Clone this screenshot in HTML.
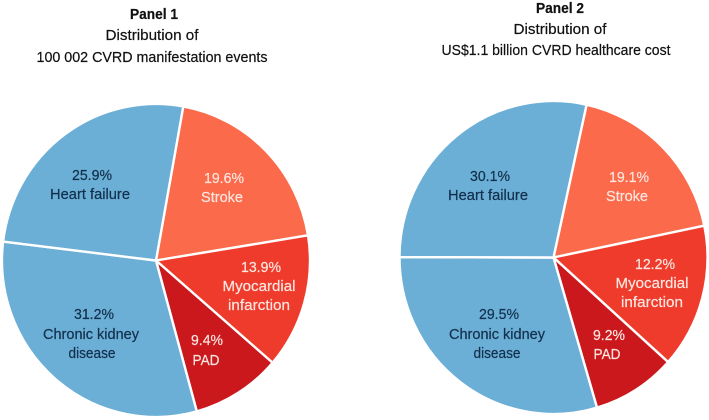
<!DOCTYPE html>
<html lang="en">
<head>
<meta charset="utf-8">
<title>CVRD manifestation events and healthcare cost</title>
<style>
html,body{margin:0;padding:0;background:#fff;}
svg{display:block;}
text{font-family:"Liberation Sans",sans-serif;font-size:14.5px;text-anchor:middle;stroke-width:0.2px;}
.title{fill:#111;stroke:#111;}
.dark{fill:#12304c;stroke:#12304c;}
.light{fill:#fde6e0;stroke:#fde6e0;}
</style>
</head>
<body>
<svg id="chart" width="709" height="420" viewBox="0 0 709 420" xmlns="http://www.w3.org/2000/svg">
  <g id="wedges"></g>

  <g>
    <text class="title" x="154" y="19" font-weight="700" textLength="48" lengthAdjust="spacingAndGlyphs">Panel 1</text>
    <text class="title" x="152" y="40" textLength="93" lengthAdjust="spacingAndGlyphs">Distribution of</text>
    <text class="title" x="152" y="62" textLength="231" lengthAdjust="spacingAndGlyphs">100 002 CVRD manifestation events</text>
  </g>
  <g>
    <text class="title" x="560" y="13" font-weight="700" textLength="48" lengthAdjust="spacingAndGlyphs">Panel 2</text>
    <text class="title" x="560" y="34" textLength="93" lengthAdjust="spacingAndGlyphs">Distribution of</text>
    <text class="title" x="556" y="55" textLength="229" lengthAdjust="spacingAndGlyphs">US$1.1 billion CVRD healthcare cost</text>
  </g>

  <g>
    <text class="dark" x="92" y="180" textLength="40" lengthAdjust="spacingAndGlyphs">25.9%</text>
    <text class="dark" x="90" y="199" textLength="80" lengthAdjust="spacingAndGlyphs">Heart failure</text>
    <text class="light" x="224" y="183" textLength="40" lengthAdjust="spacingAndGlyphs">19.6%</text>
    <text class="light" x="222" y="202" textLength="42" lengthAdjust="spacingAndGlyphs">Stroke</text>
    <text class="light" x="261" y="272" textLength="40" lengthAdjust="spacingAndGlyphs">13.9%</text>
    <text class="light" x="259" y="291" textLength="73" lengthAdjust="spacingAndGlyphs">Myocardial</text>
    <text class="light" x="259" y="310" textLength="62" lengthAdjust="spacingAndGlyphs">infarction</text>
    <text class="dark" x="94" y="319" textLength="40" lengthAdjust="spacingAndGlyphs">31.2%</text>
    <text class="dark" x="91" y="339" textLength="96" lengthAdjust="spacingAndGlyphs">Chronic kidney</text>
    <text class="dark" x="92" y="358" textLength="47" lengthAdjust="spacingAndGlyphs">disease</text>
    <text class="light" x="207" y="345" textLength="32" lengthAdjust="spacingAndGlyphs">9.4%</text>
    <text class="light" x="206" y="365" textLength="27" lengthAdjust="spacingAndGlyphs">PAD</text>
  </g>

  <g>
    <text class="dark" x="490" y="181" textLength="40" lengthAdjust="spacingAndGlyphs">30.1%</text>
    <text class="dark" x="488" y="200" textLength="80" lengthAdjust="spacingAndGlyphs">Heart failure</text>
    <text class="light" x="629" y="182" textLength="40" lengthAdjust="spacingAndGlyphs">19.1%</text>
    <text class="light" x="627" y="201" textLength="42" lengthAdjust="spacingAndGlyphs">Stroke</text>
    <text class="light" x="655" y="269" textLength="40" lengthAdjust="spacingAndGlyphs">12.2%</text>
    <text class="light" x="652" y="288" textLength="73" lengthAdjust="spacingAndGlyphs">Myocardial</text>
    <text class="light" x="652" y="307" textLength="62" lengthAdjust="spacingAndGlyphs">infarction</text>
    <text class="dark" x="499" y="319" textLength="40" lengthAdjust="spacingAndGlyphs">29.5%</text>
    <text class="dark" x="497" y="339" textLength="96" lengthAdjust="spacingAndGlyphs">Chronic kidney</text>
    <text class="dark" x="497" y="358" textLength="47" lengthAdjust="spacingAndGlyphs">disease</text>
    <text class="light" x="609" y="340" textLength="32" lengthAdjust="spacingAndGlyphs">9.2%</text>
    <text class="light" x="607" y="359" textLength="27" lengthAdjust="spacingAndGlyphs">PAD</text>
  </g>
</svg>
<script>
// Slice order, clockwise from each pie's first boundary.
const categories = ["stroke", "myocardial-infarction", "pad", "chronic-kidney-disease", "heart-failure"];
// Panel 1 wedges agree with the printed percentages.
const panel1Values = [19.6, 13.9, 9.4, 31.2, 25.9];
const panel2Values = [18.3, 14.9, 8.8, 29.6, 28.4];

const sliceColors = ["#fb6a4a", "#ef3b2c", "#cb181d", "#6baed6", "#6baed6"];
const SVG_NS = "http://www.w3.org/2000/svg";

function angleScale(values) {
  const total = values.reduce(function (a, b) { return a + b; }, 0);
  return function (v) { return v / total * 2 * Math.PI; };
}

function pointAt(pie, angle) {
  return [pie.cx + pie.rx * Math.sin(angle), pie.cy - pie.ry * Math.cos(angle)];
}

function drawPie(values, pie, panelName) {
  const host = document.getElementById("wedges");
  const scale = angleScale(values);
  let angle = pie.start * Math.PI / 180;
  values.forEach(function (value, i) {
    const sweep = scale(value);
    const p0 = pointAt(pie, angle);
    const p1 = pointAt(pie, angle + sweep);
    const large = sweep > Math.PI ? 1 : 0;
    const path = document.createElementNS(SVG_NS, "path");
    path.setAttribute("d", "M" + pie.cx + " " + pie.cy + "L" + p0[0].toFixed(2) + " " + p0[1].toFixed(2) +
      "A" + pie.rx + " " + pie.ry + " 0 " + large + " 1 " + p1[0].toFixed(2) + " " + p1[1].toFixed(2) + "Z");
    path.setAttribute("fill", sliceColors[i]);
    path.setAttribute("stroke", "#fff");
    path.setAttribute("stroke-width", "2.4");
    path.setAttribute("stroke-linejoin", "round");
    
    
    host.appendChild(path);
    angle += sweep;
  });
}

drawPie(panel1Values, { cx: 156, cy: 260.5, rx: 154, ry: 156.5, start: 10.2 }, "panel-1");
drawPie(panel2Values, { cx: 553.5, cy: 257.5, rx: 154, ry: 156.5, start: 12.4 }, "panel-2");
</script>
</body>
</html>
